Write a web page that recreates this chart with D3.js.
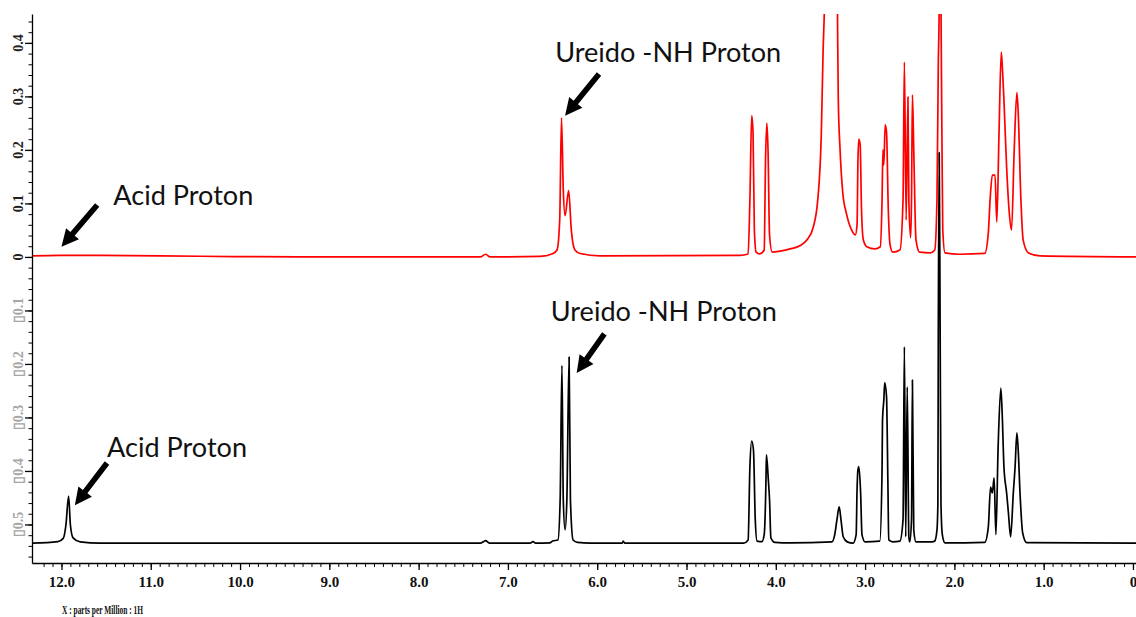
<!DOCTYPE html>
<html>
<head>
<meta charset="utf-8">
<script src="https://cdn.jsdelivr.net/npm/d3@7"></script>
<style>
  html, body { margin: 0; padding: 0; background: #fff; }
  svg { display: block; }
</style>
</head>
<body>
<div id="chart"></div>
<script>
// chemical shift (ppm) / intensity pairs
const redTrace = [
  [12.33, 0.002], [12.02, 0.003], [11.57, 0.003], [10.45, 0.0013], [9.33, 0], [7.31, 0],
  [7.25, 0.005], [7.20, 0], [6.64, 0.001], [6.50, 0.006], [6.45, 0.013], [6.42, 0.069],
  [6.40, 0.26], [6.38, 0.125], [6.36, 0.077], [6.32, 0.124], [6.29, 0.05], [6.25, 0.013],
  [6.19, 0.0065], [5.97, 0.002], [4.40, 0.003], [4.31, 0.0056], [4.29, 0.107], [4.27, 0.264],
  [4.255, 0.234], [4.24, 0.05], [4.22, 0.009], [4.18, 0.0056], [4.13, 0.013], [4.115, 0.181],
  [4.10, 0.25], [4.087, 0.2], [4.07, 0.041], [4.04, 0.009], [3.95, 0.011], [3.84, 0.015],
  [3.73, 0.021], [3.65, 0.032], [3.58, 0.056], [3.53, 0.107], [3.49, 0.232], [3.47, 0.387],
  [3.455, 0.47], [3.43, 0.8], [3.39, 1.2], [3.345, 0.8], [3.31, 0.47], [3.30, 0.293],
  [3.28, 0.2], [3.25, 0.12], [3.21, 0.082], [3.15, 0.05], [3.11, 0.041], [3.09, 0.06],
  [3.08, 0.18], [3.07, 0.22], [3.055, 0.209], [3.04, 0.088], [3.02, 0.032], [2.98, 0.019],
  [2.89, 0.015], [2.83, 0.019], [2.81, 0.107], [2.80, 0.2], [2.79, 0.172], [2.775, 0.247],
  [2.76, 0.234], [2.74, 0.088], [2.72, 0.022], [2.69, 0.009], [2.61, 0.013], [2.575, 0.107],
  [2.56, 0.364], [2.54, 0.069], [2.52, 0.299], [2.51, 0.107], [2.49, 0.036], [2.48, 0.107],
  [2.47, 0.303], [2.455, 0.2], [2.43, 0.032], [2.39, 0.009], [2.27, 0.0075], [2.22, 0.013],
  [2.195, 0.107], [2.18, 0.363], [2.17, 0.47], [2.16, 0.8], [2.15, 0.47], [2.14, 0.237],
  [2.13, 0.05], [2.105, 0.0075], [1.94, 0.005], [1.66, 0.0065], [1.62, 0.045], [1.60, 0.107],
  [1.575, 0.153], [1.545, 0.153], [1.525, 0.065], [1.50, 0.232], [1.475, 0.383], [1.46, 0.346],
  [1.445, 0.293], [1.415, 0.168], [1.385, 0.082], [1.36, 0.05], [1.33, 0.2], [1.30, 0.307],
  [1.285, 0.269], [1.255, 0.107], [1.23, 0.032], [1.17, 0.0075], [1.04, 0.002], [-0.034, 0]
];

const blackTrace = [
  [12.33, 0], [12.04, 0.003], [11.98, 0.009], [11.95, 0.034], [11.92, 0.088], [11.90, 0.034],
  [11.87, 0.01], [11.79, 0.0025], [11.57, 0], [7.31, 0], [7.27, 0.003], [7.25, 0.005],
  [7.22, 0.0015], [7.20, 0], [6.75, 0], [6.72, 0.003], [6.69, 0], [6.53, 0.0005], [6.50, 0.004],
  [6.44, 0.006], [6.415, 0.081], [6.395, 0.332], [6.38, 0.081], [6.36, 0.025], [6.34, 0.081],
  [6.315, 0.348], [6.30, 0.081], [6.27, 0.006], [6.22, 0.0015], [6.08, 0], [5.72, 0],
  [5.71, 0.004], [5.69, 0], [4.36, 0], [4.31, 0.006], [4.29, 0.143], [4.27, 0.191], [4.25, 0.174],
  [4.23, 0.044], [4.21, 0.004], [4.155, 0.003], [4.13, 0.016], [4.11, 0.118], [4.105, 0.165],
  [4.085, 0.122], [4.07, 0.081], [4.055, 0.01], [4.01, 0.0015], [3.84, 0.0005], [3.37, 0.0025],
  [3.34, 0.016], [3.315, 0.044], [3.29, 0.068], [3.27, 0.044], [3.245, 0.012], [3.20, 0.0025],
  [3.135, 0], [3.10, 0.016], [3.09, 0.1], [3.08, 0.137], [3.07, 0.143], [3.05, 0.094],
  [3.035, 0.016], [3.00, 0.0025], [2.835, 0.004], [2.81, 0.137], [2.805, 0.23], [2.79, 0.268],
  [2.78, 0.30], [2.76, 0.274], [2.745, 0.118], [2.735, 0.006], [2.69, 0.0025], [2.61, 0.004],
  [2.575, 0.044], [2.56, 0.367], [2.545, 0.012], [2.528, 0.292], [2.51, 0.012], [2.50, 0.0025],
  [2.48, 0.044], [2.47, 0.305], [2.455, 0.025], [2.43, 0.0025], [2.25, 0.0025], [2.22, 0.004],
  [2.195, 0.025], [2.185, 0.072], [2.18, 0.395], [2.17, 0.73], [2.16, 0.421], [2.15, 0.072],
  [2.135, 0.016], [2.105, 0.0005], [1.66, 0.0015], [1.62, 0.03], [1.595, 0.105], [1.575, 0.094],
  [1.555, 0.122], [1.535, 0.016], [1.51, 0.18], [1.48, 0.29], [1.465, 0.244], [1.445, 0.143],
  [1.415, 0.094], [1.395, 0.057], [1.37, 0.012], [1.34, 0.094], [1.32, 0.143], [1.30, 0.206],
  [1.285, 0.174], [1.265, 0.094], [1.235, 0.019], [1.19, 0.001], [-0.034, 0]
];

// the black spectrum sits lower on the same intensity axis
const blackOffset = -0.535;

const xTickValues = [12, 11, 10, 9, 8, 7, 6, 5, 4, 3, 2, 1, 0];
const xTickLabels = ["12.0", "11.0", "10.0", "9.0", "8.0", "7.0", "6.0", "5.0", "4.0", "3.0", "2.0", "1.0", "0"];

const yTickValues = [0.4, 0.3, 0.2, 0.1, 0, -0.1, -0.2, -0.3, -0.4, -0.5];
const yTickLabels = ["0.4", "0.3", "0.2", "0.1", "0", "\u25AF0.1", "\u25AF0.2", "\u25AF0.3", "\u25AF0.4", "\u25AF0.5"];

const annotations = [
  { text: "Ureido -NH Proton", at: [6.47, 0.364], tail: [5.98, 0.342], tip: [6.36, 0.264] },
  { text: "Acid Proton", at: [11.42, 0.097], tail: [11.60, 0.097], tip: [12.0, 0.019] },
  { text: "Ureido -NH Proton", at: [6.52, -0.12], tail: [5.92, -0.144], tip: [6.23, -0.217] },
  { text: "Acid Proton", at: [11.49, -0.373], tail: [11.49, -0.385], tip: [11.85, -0.464] }
];

(function () {
  const width = 1136;
  const height = 617;
  const plot = { left: 32, right: 1136, top: 14, bottom: 563 };
  const noteWidth = { "Ureido -NH Proton": 226, "Acid Proton": 140 };

  const svg = d3.select("#chart")
    .append("svg")
    .attr("width", width)
    .attr("height", height);

  const x = d3.scaleLinear()
    .domain([12.33, -0.034])
    .range([plot.left, plot.right]);

  const y = d3.scaleLinear()
    .domain([-0.572, 0.454])
    .range([plot.bottom, plot.top]);

  svg.append("clipPath")
    .attr("id", "plotClip")
    .append("rect")
    .attr("x", plot.left)
    .attr("y", plot.top)
    .attr("width", plot.right - plot.left)
    .attr("height", plot.bottom - plot.top);

  const line = d3.line()
    .x(d => x(d[0]))
    .y(d => y(d[1]))
    .curve(d3.curveMonotoneX);

  const spectra = svg.append("g").attr("clip-path", "url(#plotClip)");

  spectra.append("path")
    .datum(redTrace)
    .attr("fill", "none")
    .attr("stroke", "#ff0000")
    .attr("stroke-width", 1.7)
    .attr("stroke-linejoin", "round")
    .attr("d", line);

  spectra.append("path")
    .datum(blackTrace.map(d => [d[0], d[1] + blackOffset]))
    .attr("fill", "none")
    .attr("stroke", "#000")
    .attr("stroke-width", 1.7)
    .attr("stroke-linejoin", "round")
    .attr("d", line);

  // x axis: minor every 0.1 ppm, major every 1 ppm
  const xMinor = d3.range(0, 123).map(i => i / 10);
  svg.append("g")
    .attr("transform", `translate(0,${plot.bottom})`)
    .call(d3.axisBottom(x).tickValues(xMinor).tickSize(4).tickSizeOuter(0).tickFormat(""))
    .call(g => g.select(".domain").attr("stroke-width", 1.3));

  const xAxis = svg.append("g")
    .attr("transform", `translate(0,${plot.bottom})`)
    .call(d3.axisBottom(x).tickValues(xTickValues).tickSize(7).tickSizeOuter(0)
      .tickFormat((d, i) => xTickLabels[i]));
  xAxis.select(".domain").remove();
  xAxis.selectAll("line").attr("stroke-width", 1.3);
  xAxis.selectAll("text")
    .attr("y", 13)
    .attr("dy", "0.71em")
    .style("font-family", "'Liberation Serif', 'Times New Roman', serif")
    .style("font-weight", "bold")
    .style("font-size", "15px")
    .style("fill", "#111");

  svg.append("text")
    .attr("x", 62)
    .attr("y", 614)
    .attr("textLength", 81)
    .attr("lengthAdjust", "spacingAndGlyphs")
    .style("font-family", "'Liberation Serif', 'Times New Roman', serif")
    .style("font-weight", "bold")
    .style("font-size", "12px")
    .style("fill", "#111")
    .text("X : parts per Million : 1H");

  // y axis: minor every 0.02, major every 0.1
  const yMinor = d3.range(-28, 23).map(i => i / 50);
  svg.append("g")
    .attr("transform", `translate(${plot.left},0)`)
    .call(d3.axisLeft(y).tickValues(yMinor).tickSize(3.5).tickSizeOuter(0).tickFormat(""))
    .call(g => g.select(".domain").attr("stroke-width", 1.3));

  svg.append("g")
    .attr("transform", `translate(${plot.left},0)`)
    .call(d3.axisLeft(y).tickValues(yTickValues).tickSize(7).tickSizeOuter(0).tickFormat(""))
    .call(g => g.select(".domain").remove())
    .call(g => g.selectAll("line").attr("stroke-width", 1.3));

  svg.append("g")
    .selectAll("text")
    .data(yTickValues)
    .enter().append("text")
    .attr("transform", d => `translate(23,${y(d)}) rotate(-90)`)
    .attr("text-anchor", "middle")
    .style("font-family", "'Liberation Serif', 'Times New Roman', serif")
    .style("font-weight", "bold")
    .style("font-size", "14px")
    .style("fill", d => d < 0 ? "#a6a6a6" : "#222")
    .text((d, i) => yTickLabels[i]);

  // annotations
  const arrow = (t, p) => {
    const dx = p[0] - t[0], dy = p[1] - t[1];
    const len = Math.hypot(dx, dy);
    const ux = dx / len, uy = dy / len;
    const nx = -uy, ny = ux;
    const w = 2.8, h = 8.5, L = 17;
    const bx = p[0] - ux * L, by = p[1] - uy * L;
    const pts = [
      [t[0] + nx * w, t[1] + ny * w],
      [bx + nx * w, by + ny * w],
      [bx + nx * h, by + ny * h],
      p,
      [bx - nx * h, by - ny * h],
      [bx - nx * w, by - ny * w],
      [t[0] - nx * w, t[1] - ny * w]
    ];
    return "M" + pts.map(q => q.join(",")).join("L") + "Z";
  };

  const notes = svg.append("g");
  annotations.forEach(a => {
    notes.append("text")
      .attr("x", x(a.at[0]))
      .attr("y", y(a.at[1]))
      .attr("textLength", noteWidth[a.text])
      .attr("lengthAdjust", "spacingAndGlyphs")
      .style("font-family", "Lato, 'Open Sans', sans-serif")
      .style("font-size", "26px")
      .style("fill", "#111")
      .text(a.text);
    notes.append("path")
      .attr("d", arrow([x(a.tail[0]), y(a.tail[1])], [x(a.tip[0]), y(a.tip[1])]))
      .attr("fill", "#000");
  });
})();
</script>
</body>
</html>
